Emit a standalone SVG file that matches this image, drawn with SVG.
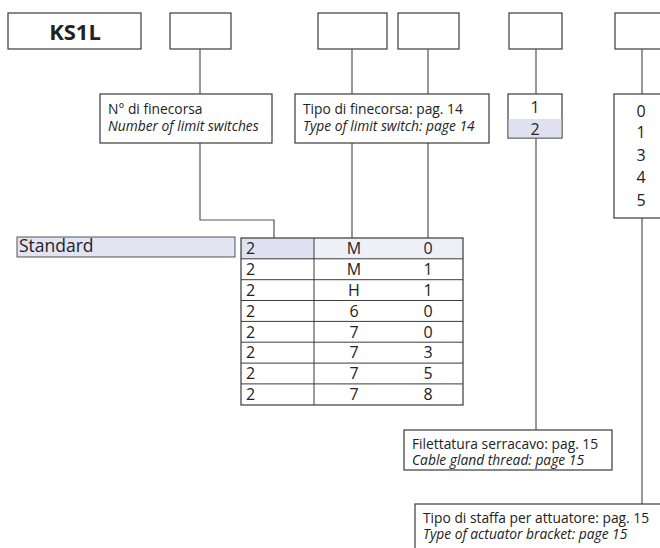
<svg xmlns="http://www.w3.org/2000/svg" width="660" height="548" viewBox="0 0 660 548">
<style>
.box{fill:#fff;stroke:#3a3a3a;stroke-width:1.2}
.ln{stroke:#555;stroke-width:1.2;fill:none}
.t{font-family:"Open Sans","Liberation Sans",sans-serif;font-size:13.8px;fill:#222}
.d{font-family:"Open Sans","Liberation Sans",sans-serif;font-size:16px;fill:#222}
.s{font-family:"Open Sans","Liberation Sans",sans-serif;font-size:17.5px;fill:#222}
.i{font-style:italic}
.c{text-anchor:middle}
</style>
<rect width="660" height="548" fill="#fff"/>
<g id="code-ks1l"><rect class="box" x="8" y="13" width="133" height="36"/><text x="75" y="40" text-anchor="middle" font-family="'Open Sans','Liberation Sans',sans-serif" font-weight="bold" font-size="22" fill="#222">KS1L</text></g>
<g id="code-1"><rect class="box" x="170" y="13" width="61" height="36"/></g>
<g id="code-2"><rect class="box" x="318" y="13" width="69" height="36"/></g>
<g id="code-3"><rect class="box" x="398" y="13" width="61" height="36"/></g>
<g id="code-4"><rect class="box" x="509" y="13" width="53" height="36"/></g>
<g id="code-5"><rect class="box" x="615" y="13" width="60" height="36"/></g>
<g id="connectors">
<path class="ln" d="M200 49V94M200 143V220H274V238"/>
<path class="ln" d="M352 49V94M352 143V238"/>
<path class="ln" d="M428 49V94M428 143V238"/>
<path class="ln" d="M536 49V94M536 138V430"/>
<path class="ln" d="M642 49V94M642 218V504"/>
</g>
<g id="label-nfine"><rect class="box" x="100" y="94" width="172" height="49"/><text class="t" x="108" y="114">N° di finecorsa</text><text class="t i" x="108" y="130.5">Number of limit switches</text></g>
<g id="label-tipo"><rect class="box" x="295" y="94" width="194" height="49"/><text class="t" x="303" y="114">Tipo di finecorsa: pag. 14</text><text class="t i" x="303" y="130.5">Type of limit switch: page 14</text></g>
<g id="opt-thread"><rect class="box" x="508" y="94" width="54" height="44"/><rect x="508.6" y="119" width="52.8" height="18.4" fill="#dfe1f0"/><text class="d c" x="535" y="113">1</text><text class="d c" x="535" y="135">2</text></g>
<g id="opt-bracket"><rect class="box" x="614" y="94" width="60" height="124"/><text class="d c" x="641" y="117">0</text><text class="d c" x="641" y="138">1</text><text class="d c" x="641" y="161">3</text><text class="d c" x="641" y="183">4</text><text class="d c" x="641" y="206">5</text></g>
<g id="standard"><rect x="17" y="237" width="218" height="20" fill="#e2e4f2" stroke="#555" stroke-width="1"/><text class="s" x="19" y="252">Standard</text></g>
<g id="table">
<rect x="241" y="238" width="73" height="20.8" fill="#dfe1f0"/>
<rect x="314" y="238" width="149" height="20.8" fill="#eef0f8"/>
<rect x="241" y="238" width="222" height="167" fill="none" stroke="#3a3a3a" stroke-width="1.2"/>
<path d="M241 258.8H463M241 279.7H463M241 300.5H463M241 321.4H463M241 342.2H463M241 363.1H463M241 383.9H463M314 238V405" stroke="#3a3a3a" stroke-width="1" fill="none"/>
<g class="d">
<text x="246" y="254">2</text><text class="c" x="354" y="254">M</text><text class="c" x="428" y="254">0</text>
<text x="246" y="275">2</text><text class="c" x="354" y="275">M</text><text class="c" x="428" y="275">1</text>
<text x="246" y="296">2</text><text class="c" x="354" y="296">H</text><text class="c" x="428" y="296">1</text>
<text x="246" y="317">2</text><text class="c" x="354" y="317">6</text><text class="c" x="428" y="317">0</text>
<text x="246" y="338">2</text><text class="c" x="354" y="338">7</text><text class="c" x="428" y="338">0</text>
<text x="246" y="358">2</text><text class="c" x="354" y="358">7</text><text class="c" x="428" y="358">3</text>
<text x="246" y="379">2</text><text class="c" x="354" y="379">7</text><text class="c" x="428" y="379">5</text>
<text x="246" y="400">2</text><text class="c" x="354" y="400">7</text><text class="c" x="428" y="400">8</text>
</g>
</g>
<g id="label-thread"><rect class="box" x="404" y="430" width="208" height="40"/><text class="t" x="412" y="448.5">Filettatura serracavo: pag. 15</text><text class="t i" x="412" y="465">Cable gland thread: page 15</text></g>
<g id="label-bracket"><rect class="box" x="415" y="504" width="260" height="60"/><text class="t" x="423" y="523">Tipo di staffa per attuatore: pag. 15</text><text class="t i" x="423" y="539">Type of actuator bracket: page 15</text></g>
</svg>
